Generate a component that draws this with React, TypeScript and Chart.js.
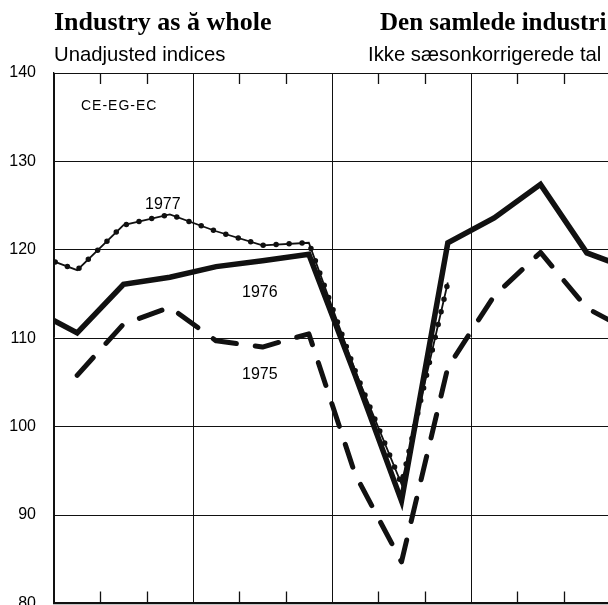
import React, { useEffect, useRef } from 'react';
import { Chart, registerables } from 'chart.js';

Chart.register(...registerables);

// ---- data (monthly unadjusted indices, CE-EG-EC industry as a whole) ----
const MONTHS = ['Jan', 'Feb', 'Mar', 'Apr', 'May', 'Jun', 'Jul', 'Aug', 'Sep', 'Oct', 'Nov', 'Dec'];
const Y_MIN = 80;
const Y_MAX = 140;
const Y_STEP = 10;
const QUARTER = 3;

const IDX_1975 = [105.8, 111.6, 113.5, 109.7, 109.0, 110.5, 94.6, 84.7, 106.7, 114.8, 119.7, 113.4];
const IDX_1976 = [110.6, 116.1, 116.9, 118.1, 118.75, 119.5, 105.8, 91.6, 120.8, 123.6, 127.4, 119.65];
const IDX_1977 = [117.7, 122.8, 124.0, 122.1, 120.5, 120.8, 106.3, 93.5, 116.3];

type Pt = { x: number; y: number };

// each year drawn Jan..Dec at month centres, joined to the neighbouring years' Dec / Jan
function yearSeries(values: number[], prevDec?: number, nextJan?: number): Pt[] {
  const pts: Pt[] = [];
  if (prevDec !== undefined) pts.push({ x: -0.5, y: prevDec });
  values.forEach((v, i) => pts.push({ x: i + 0.5, y: v }));
  if (nextJan !== undefined) pts.push({ x: MONTHS.length + 0.5, y: nextJan });
  return pts;
}

const INK = '#111';

const monthTicks = {
  id: 'monthTicks',
  afterDraw(chart: any) {
    const { ctx, chartArea, scales } = chart;
    const xs = scales.x;
    ctx.save();
    ctx.strokeStyle = INK;
    ctx.lineWidth = 1.3;
    for (let m = 1; m < MONTHS.length; m++) {
      if (m % QUARTER === 0) continue;
      const px = Math.round(xs.getPixelForValue(m)) + 0.5;
      ctx.beginPath();
      ctx.moveTo(px, chartArea.top);
      ctx.lineTo(px, chartArea.top + 11);
      ctx.moveTo(px, chartArea.bottom);
      ctx.lineTo(px, chartArea.bottom - 12);
      ctx.stroke();
    }
    ctx.restore();
  },
};

export default function App() {
  const ref = useRef<HTMLCanvasElement | null>(null);

  useEffect(() => {
    if (!ref.current) return;
    const d1975 = yearSeries(IDX_1975, undefined, IDX_1976[0]);
    const d1976 = yearSeries(IDX_1976, IDX_1975[11], IDX_1977[0]);
    const d1977 = yearSeries(IDX_1977, IDX_1976[11]);

    const chart = new Chart(ref.current, {
      type: 'line',
      data: {
        datasets: [
          {
            label: '1975',
            data: d1975,
            borderColor: INK,
            borderWidth: 5,
            borderDash: [24, 19],
            borderCapStyle: 'round',
            borderJoinStyle: 'round',
            pointRadius: 0,
            tension: 0,
            clip: 0,
          },
          {
            label: '1976',
            data: d1976,
            borderColor: INK,
            borderWidth: 5.5,
            borderJoinStyle: 'miter',
            pointRadius: 0,
            tension: 0,
            clip: 0,
          },
          {
            label: '1977',
            data: d1977,
            borderColor: INK,
            borderWidth: 1.8,
            pointRadius: 0,
            tension: 0,
            clip: 0,
          },
          {
            label: '1977 dots',
            data: d1977,
            borderColor: INK,
            borderWidth: 5.5,
            borderDash: [0, 13],
            borderCapStyle: 'round',
            pointRadius: 0,
            tension: 0,
            clip: 0,
          },
        ],
      },
      options: {
        animation: false,
        responsive: false,
        events: [],
        layout: { padding: { top: 73, right: 2, bottom: 5, left: 0 } },
        plugins: {
          legend: { display: false },
          title: { display: false },
          tooltip: { enabled: false },
        },
        scales: {
          x: {
            type: 'linear',
            min: 0,
            max: MONTHS.length,
            ticks: { display: false, stepSize: QUARTER },
            grid: { color: INK, lineWidth: 1, drawTicks: false },
            border: { display: true, color: INK, width: 2.2 },
            afterFit: (s: any) => {
              s.height = 0;
            },
          },
          y: {
            min: Y_MIN,
            max: Y_MAX,
            ticks: {
              stepSize: Y_STEP,
              color: '#000',
              padding: 18,
              font: { family: "'Liberation Sans', Arial, sans-serif", size: 16 },
            },
            grid: { color: INK, lineWidth: 1, drawTicks: false },
            border: { display: true, color: INK, width: 1.3 },
            afterFit: (s: any) => {
              s.width = 54;
            },
          },
        },
      },
      plugins: [monthTicks],
    });
    return () => chart.destroy();
  }, []);

  const sans = "'Liberation Sans', Arial, Helvetica, sans-serif";
  const serif = "'Liberation Serif', 'Times New Roman', serif";
  const txt = (extra: React.CSSProperties): React.CSSProperties => ({
    position: 'absolute',
    whiteSpace: 'nowrap',
    lineHeight: 1,
    color: '#000',
    margin: 0,
    ...extra,
  });

  return (
    <div
      style={{
        position: 'fixed',
        left: 0,
        top: 0,
        width: 608,
        height: 605,
        overflow: 'hidden',
        background: '#fff',
      }}
    >
      <canvas ref={ref} width={612} height={631} style={{ position: 'absolute', left: 0, top: 0 }} />
      <div style={txt({ left: 54, top: 9, fontFamily: serif, fontWeight: 700, fontSize: 26 })}>Industry as ă whole</div>
      <div style={txt({ left: 380, top: 9, fontFamily: serif, fontWeight: 700, fontSize: 25 })}>Den samlede industri</div>
      <div style={txt({ left: 54, top: 44, fontFamily: sans, fontSize: 20.3 })}>Unadjusted indices</div>
      <div style={txt({ left: 368, top: 44, fontFamily: sans, fontSize: 20.3 })}>Ikke sæsonkorrigerede tal</div>
      <div style={txt({ left: 81, top: 98, fontFamily: sans, fontSize: 14, letterSpacing: 1 })}>CE-EG-EC</div>
      <div style={txt({ left: 145, top: 196, fontFamily: sans, fontSize: 16 })}>1977</div>
      <div style={txt({ left: 242, top: 284, fontFamily: sans, fontSize: 16 })}>1976</div>
      <div style={txt({ left: 242, top: 366, fontFamily: sans, fontSize: 16 })}>1975</div>
    </div>
  );
}
